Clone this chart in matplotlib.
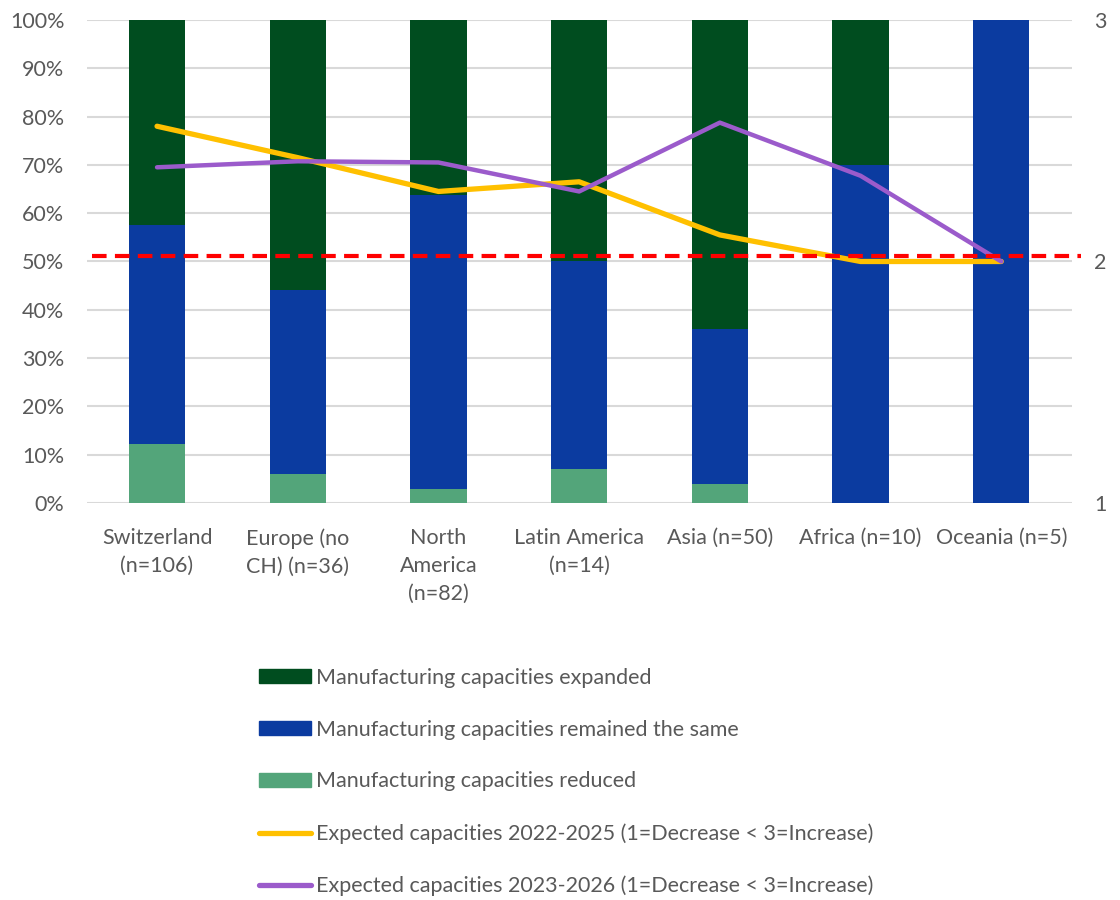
import matplotlib
matplotlib.use("Agg")
import matplotlib.pyplot as plt
import numpy as np
from matplotlib.patches import Patch
from matplotlib.lines import Line2D

categories = ["Switzerland\n(n=106)", "Europe (no\nCH) (n=36)", "North\nAmerica\n(n=82)",
              "Latin America\n(n=14)", "Asia (n=50)", "Africa (n=10)", "Oceania (n=5)"]
reduced = [12.3, 6.0, 2.8, 7.1, 4.0, 0.0, 0.0]
same = [45.2, 38.0, 61.0, 42.9, 32.0, 70.0, 100.0]
expanded = [42.5, 56.0, 36.2, 50.0, 64.0, 30.0, 0.0]
expected_2022_2025 = [2.56, 2.43, 2.29, 2.33, 2.11, 2.0, 2.0]
expected_2023_2026 = [2.39, 2.415, 2.41, 2.29, 2.575, 2.355, 2.0]
reference_level = 2.023

left_ticks = [0, 10, 20, 30, 40, 50, 60, 70, 80, 90, 100]
right_ticks = [1, 2, 3]

labels = ["Manufacturing capacities expanded",
          "Manufacturing capacities remained the same",
          "Manufacturing capacities reduced",
          "Expected capacities 2022-2025 (1=Decrease < 3=Increase)",
          "Expected capacities 2023-2026 (1=Decrease < 3=Increase)"]

c_exp = "#004D1F"
c_same = "#0B3BA0"
c_red = "#53A57A"
c_y = "#FFC000"
c_p = "#9B5BCB"
txt = "#595959"
grid = "#D9D9D9"

plt.rcParams['font.family'] = ['Lato', 'DejaVu Sans']
fs = 15.5

fig = plt.figure(figsize=(11.2, 9), dpi=100)
ax = fig.add_axes([0.0774, 0.4411, 0.8794, 0.5367])
x = np.arange(len(categories))
w = 0.4
ax.bar(x, reduced, w, color=c_red, zorder=2)
ax.bar(x, same, w, bottom=reduced, color=c_same, zorder=2)
bot2 = np.array(reduced) + np.array(same)
ax.bar(x, expanded, w, bottom=bot2, color=c_exp, zorder=2)
ax.set_xlim(-0.5, len(categories) - 0.5)
ax.set_ylim(0, 100)
ax.set_yticks(left_ticks)
ax.set_yticklabels([f"{t}%" for t in left_ticks], fontsize=fs, color=txt)
ax.yaxis.grid(True, color=grid, linewidth=1.5, zorder=0)
ax.set_axisbelow(True)
ax.set_xticks(x)
ax.set_xticklabels(categories, fontsize=fs, color=txt, linespacing=1.5)
ax.tick_params(axis='both', length=0)
ax.tick_params(axis='x', pad=18)
ax.tick_params(axis='y', pad=16)
for s in ax.spines.values():
    s.set_visible(False)

ax2 = ax.twinx()
ax2.set_ylim(1, 3)
ax2.set_yticks(right_ticks)
ax2.set_yticklabels([str(t) for t in right_ticks], fontsize=fs, color=txt)
ax2.tick_params(axis='y', length=0, pad=16)
for s in ax2.spines.values():
    s.set_visible(False)
ax2.plot(x, expected_2022_2025, color=c_y, lw=3.8, solid_joinstyle='round', solid_capstyle='round', zorder=3)
ax2.plot(x, expected_2023_2026, color=c_p, lw=3.2, solid_joinstyle='round', solid_capstyle='round', zorder=4)
ax2.axhline(reference_level, xmin=0.005, xmax=1.01, color="#FF0000", lw=3.0,
            dashes=(3.5, 2), clip_on=False, zorder=5)

handles = [Patch(color=c_exp), Patch(color=c_same), Patch(color=c_red),
           Line2D([], [], color=c_y, lw=3.8, solid_capstyle='round'),
           Line2D([], [], color=c_p, lw=3.8, solid_capstyle='round')]
leg = fig.legend(handles, labels, loc='upper left', bbox_to_anchor=(0.222, 0.27),
                 frameon=False, fontsize=fs, labelcolor=txt, handlelength=2.4,
                 handleheight=0.65, handletextpad=0.25, labelspacing=1.48, borderpad=0)

fig.savefig("out.png", dpi=100)
